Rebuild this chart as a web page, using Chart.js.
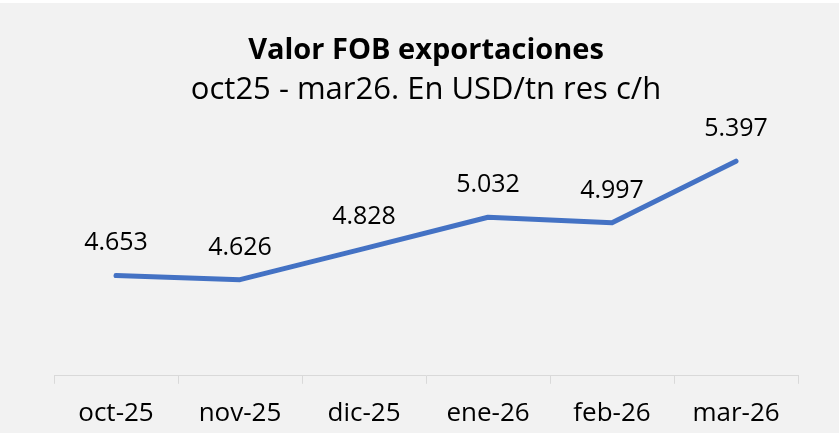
<!DOCTYPE html>
<html lang="es">
<head>
  <meta charset="UTF-8" />
  <title>Valor FOB exportaciones</title>
  <script src="https://cdn.jsdelivr.net/npm/chart.js"></script>
  <style>
    html, body {
      margin: 0;
      padding: 0;
      background: #ffffff;
    }
    .wrap {
      width: 839px;
      height: 433px;
    }
  </style>
</head>
<body>
  <div class="wrap">
    <canvas id="fobChart" width="839" height="433"></canvas>
  </div>

  <script>
    // datos del grafico
    const meses = ['oct-25', 'nov-25', 'dic-25', 'ene-26', 'feb-26', 'mar-26'];
    const valoresFob = [4653, 4626, 4828, 5032, 4997, 5397];
    const ejeMin = 4000;
    const ejeMax = 5600;

    const FUENTE = '"Open Sans", Lato, sans-serif';

    // 4653 -> "4.653"
    function formatoMiles(v) {
      return String(Math.round(v)).replace(/\B(?=(\d{3})+(?!\d))/g, '.');
    }

    const fondoGris = {
      id: 'fondoGris',
      beforeDraw(chart) {
        const c = chart.ctx;
        c.save();
        c.fillStyle = '#F2F2F2';
        c.fillRect(0, 3, chart.width, chart.height - 3);
        c.restore();
      }
    };

    // etiquetas de valor arriba de cada punto
    const etiquetas = {
      id: 'etiquetas',
      afterDatasetsDraw(chart) {
        const c = chart.ctx;
        const meta = chart.getDatasetMeta(0);
        c.save();
        c.font = '25px ' + FUENTE;
        c.fillStyle = '#000000';
        c.textAlign = 'center';
        c.textBaseline = 'alphabetic';
        meta.data.forEach((pt, i) => {
          c.fillText(formatoMiles(valoresFob[i]), pt.x, pt.y - 25);
        });
        c.restore();
      }
    };

    const ctx = document.getElementById('fobChart').getContext('2d');
    new Chart(ctx, {
      type: 'line',
      data: {
        labels: meses,
        datasets: [{
          data: valoresFob,
          borderColor: '#4472C4',
          borderWidth: 5,
          borderCapStyle: 'round',
          borderJoinStyle: 'round',
          pointRadius: 0,
          tension: 0,
          fill: false
        }]
      },
      options: {
        responsive: false,
        animation: false,
        layout: {
          padding: { top: 3, left: 54, right: 41, bottom: -10 }
        },
        scales: {
          x: {
            offset: true,
            grid: {
              offset: true,
              drawOnChartArea: false,
              drawTicks: true,
              tickLength: 8,
              color: '#D9D9D9'
            },
            border: { color: '#D9D9D9', width: 1 },
            ticks: {
              color: '#000000',
              padding: 14,
              font: { family: FUENTE, size: 26 }
            }
          },
          y: {
            display: false,
            min: ejeMin,
            max: ejeMax
          }
        },
        plugins: {
          legend: { display: false },
          tooltip: { enabled: false },
          title: {
            display: true,
            text: 'Valor FOB exportaciones',
            color: '#000000',
            font: { family: FUENTE, size: 29, weight: 'bold' },
            padding: { top: 30, bottom: 4 }
          },
          subtitle: {
            display: true,
            text: 'oct25 - mar26. En USD/tn res c/h',
            color: '#000000',
            font: { family: FUENTE, size: 31 },
            padding: { top: 0, bottom: 21 }
          }
        }
      },
      plugins: [fondoGris, etiquetas]
    });
  </script>
</body>
</html>
